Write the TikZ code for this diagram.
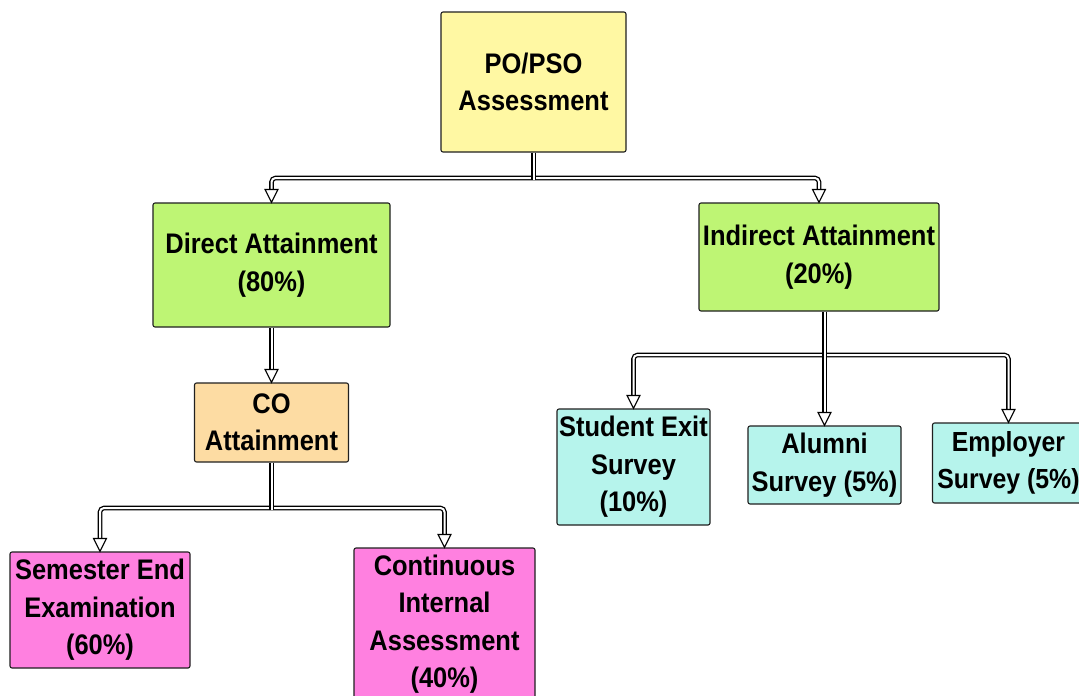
\documentclass[tikz,border=0pt]{standalone}
\usepackage{fontspec}
\setmainfont{Liberation Sans}[FakeStretch=0.9]
\usetikzlibrary{calc}
\definecolor{cyel}{HTML}{FFF8A3}
\definecolor{cgrn}{HTML}{BEF574}
\definecolor{cpch}{HTML}{FDDCA3}
\definecolor{ccyn}{HTML}{B6F4EC}
\definecolor{cmag}{HTML}{FF80E0}
\definecolor{cedge}{HTML}{202020}
\newcommand\dntip[1]{\draw[tipst] (#1) -- ++(-6.5,-13) -- ++(13,0) -- cycle;}
\begin{document}
\begin{tikzpicture}[x=1pt,y=-1pt,
  box/.style={draw=cedge, line width=1.1pt, rounded corners=2pt, align=center, inner sep=1pt,
    font=\fontsize{28.3}{37.5}\selectfont\bfseries},
  conn/.style={draw=black, double=white, double distance=2pt, line width=1.3pt, rounded corners=4pt},
  tipst/.style={draw=black, fill=white, line width=1.1pt, line join=miter}]
\useasboundingbox (0,0) rectangle (1079,696);
\fill[white] (0,0) rectangle (1079,696);

\node[box, fill=cyel, minimum width=185pt, minimum height=140pt] (po) at (533.5,82) {PO/PSO\\Assessment};
\node[box, fill=cgrn, minimum width=237pt, minimum height=124pt] (da) at (271.5,265) {Direct Attainment\\(80\%)};
\node[box, fill=cgrn, minimum width=240pt, minimum height=108pt] (ia) at (819,257) {Indirect Attainment\\(20\%)};
\node[box, fill=cpch, minimum width=154pt, minimum height=79pt] (co) at (271.5,422.5) {CO\\Attainment};
\node[box, fill=ccyn, minimum width=153pt, minimum height=116pt] (se) at (633.5,467) {Student Exit\\Survey\\(10\%)};
\node[box, fill=ccyn, minimum width=153pt, minimum height=78pt] (al) at (824.5,465) {Alumni\\Survey (5\%)};
\node[box, fill=ccyn, minimum width=152pt, minimum height=80pt, font=\fontsize{27.6}{37}\selectfont\bfseries] (em) at (1008.5,463) {Employer\\Survey (5\%)};
\node[box, fill=cmag, minimum width=180pt, minimum height=116pt] (sem) at (100,610) {Semester End\\Examination\\(60\%)};
\node[box, fill=cmag, minimum width=181pt, minimum height=152pt] (cia) at (444.5,624) {Continuous\\Internal\\Assessment\\(40\%)};

% PO/PSO -> Direct, Indirect
\draw[conn] ($(da.north)+(0,-13)$) |- (533.5,178) -| ($(ia.north)+(0,-13)$);
\draw[conn] (po.south) -- (533.5,180);
\dntip{da.north}
\dntip{ia.north}

% Direct -> CO
\draw[conn] (da.south) -- ($(co.north)+(0,-13)$);
\dntip{co.north}

% Indirect -> surveys
\draw[conn] ($(se.north)+(0,-13)$) |- (824.5,355) -| ($(em.north)+(0,-13)$);
\draw[conn] (ia.south -| al.north) -- ($(al.north)+(0,-13)$);
\dntip{se.north}
\dntip{al.north}
\dntip{em.north}

% CO -> SEE, CIA
\draw[conn] ($(sem.north)+(0,-13)$) |- (271.5,508) -| ($(cia.north)+(0,-13)$);
\draw[conn] (co.south) -- (271.5,510);
\dntip{sem.north}
\dntip{cia.north}
\end{tikzpicture}
\end{document}
